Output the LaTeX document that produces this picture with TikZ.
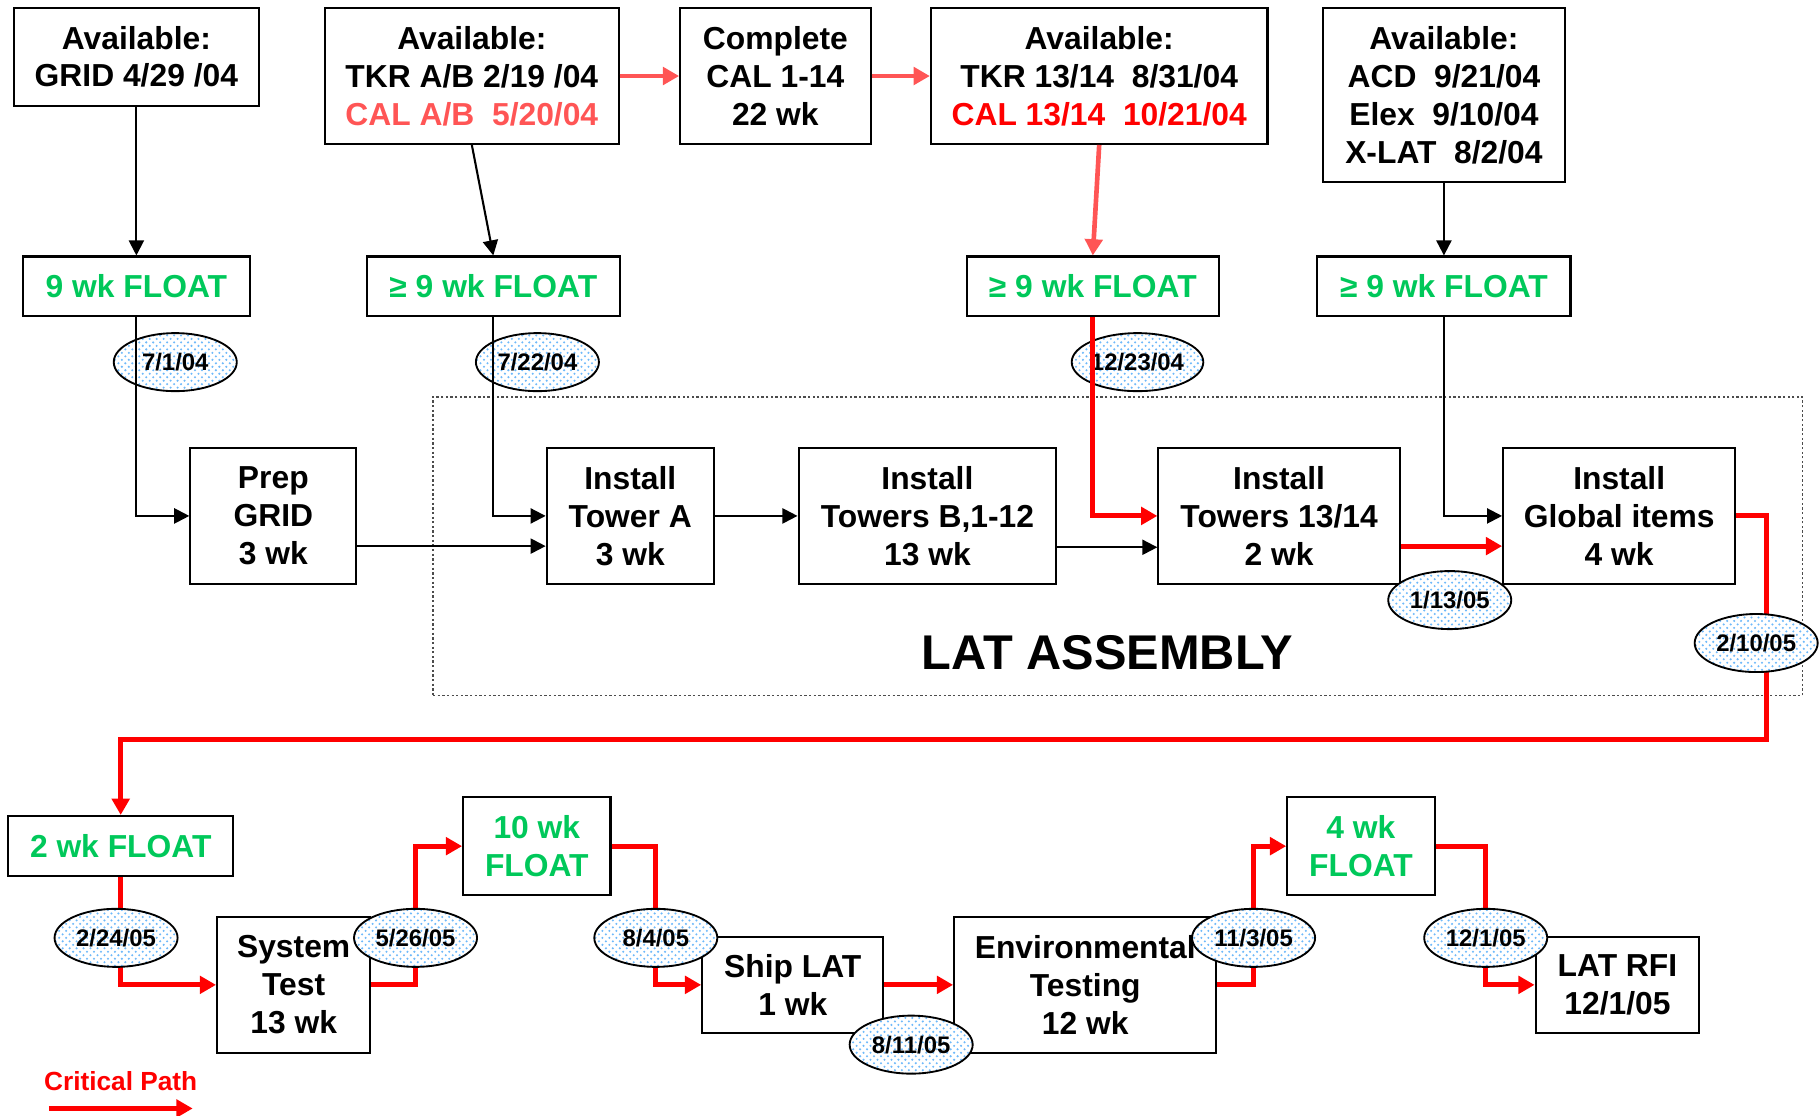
\documentclass[tikz,border=0pt]{standalone}
\usepackage{fontspec}
\setmainfont{Liberation Sans}
\usetikzlibrary{arrows.meta,patterns,shapes.geometric}
\definecolor{floatgreen}{RGB}{0,200,90}
\definecolor{softred}{RGB}{255,85,85}
\definecolor{critred}{RGB}{255,0,0}
\definecolor{dotblue}{RGB}{110,185,250}
\newcommand{\boxfont}{\bfseries\fontsize{13.7}{16.3}\selectfont}

\begin{document}
\begin{tikzpicture}[x=0.5pt,y=-0.5pt,
  task/.style={draw,line width=0.9pt,align=center,inner sep=0pt,font=\boxfont},
  flt/.style={task,text=floatgreen},
  datetag/.style={ellipse,draw,line width=0.8pt,minimum width=53pt,minimum height=25pt,
    inner sep=0pt,preaction={fill=white},pattern=crosshatch dots,pattern color=dotblue,
    font=\bfseries\fontsize{10.3}{12}\selectfont},
  link/.style={line width=0.9pt,-{Triangle[length=6.5pt,width=6.5pt]}},
  supply/.style={line width=2pt,softred,-{Triangle[length=7pt,width=7.5pt]}},
  crit/.style={line width=2.2pt,critred,-{Triangle[length=7pt,width=7.5pt]}}]
\useasboundingbox (0,0) rectangle (1568,961);
% LAT assembly frame
\node[draw=black!70,dash pattern=on 1pt off 1pt,line width=0.5pt,inner sep=0pt,
  minimum width=590pt,minimum height=128.5pt] (asm) at (963,470.5) {};
\node[font=\bfseries\fontsize{21}{25}\selectfont] (asmName) at (954,562) {LAT ASSEMBLY};
% deliveries
\node[task,minimum width=105.5pt,minimum height=42pt] (avGrid) at (117.5,49) {Available:\\GRID 4/29 /04};
\node[task,minimum width=126.5pt,minimum height=58.5pt] (avTkrAB) at (406.5,65.5)
  {Available:\\TKR A/B 2/19 /04\\\textcolor{softred}{CAL A/B~~5/20/04}};
\node[task,minimum width=82pt,minimum height=58.5pt] (calDone) at (668,65.5) {Complete\\CAL 1-14\\22 wk};
\node[task,minimum width=145pt,minimum height=58.5pt] (avTkr34) at (947,65.5)
  {Available:\\TKR 13/14~~8/31/04\\\textcolor{critred}{CAL 13/14~~10/21/04}};
\node[task,minimum width=104pt,minimum height=75pt] (avGlob) at (1244,82)
  {Available:\\ACD~~9/21/04\\Elex~~9/10/04\\X-LAT~~8/2/04};
% floats
\node[flt,minimum width=97.5pt,minimum height=25.5pt] (flGrid) at (117.5,246.5) {9 wk FLOAT};
\node[flt,minimum width=109pt,minimum height=25.5pt] (flTwrA) at (425,246.5) {≥ 9 wk FLOAT};
\node[flt,minimum width=108.5pt,minimum height=25.5pt] (flTwr34) at (941.5,246.5) {≥ 9 wk FLOAT};
\node[flt,minimum width=109pt,minimum height=25.5pt] (flGlob) at (1244,246.5) {≥ 9 wk FLOAT};
\node[datetag] (dGrid) at (151,312) {7/1/04};
\node[datetag] (dTwrA) at (463,312) {7/22/04};
\node[datetag] (dTwr34) at (980,312) {12/23/04};
% assembly tasks
\node[task,minimum width=71.5pt,minimum height=58.5pt] (prep) at (235.5,444.5) {Prep\\GRID\\3 wk};
\node[task,minimum width=72pt,minimum height=58.5pt] (twrA) at (543,444.5) {Install\\Tower A\\3 wk};
\node[task,minimum width=111pt,minimum height=58.5pt] (twrB) at (799,444.5) {Install\\Towers B,1-12\\13 wk};
\node[task,minimum width=104pt,minimum height=58.5pt] (twr34) at (1102,444.5) {Install\\Towers 13/14\\2 wk};
\node[task,minimum width=100pt,minimum height=58.5pt] (glob) at (1395,444.5) {Install\\Global items\\4 wk};
% test and ship
\node[flt,minimum width=97pt,minimum height=26pt] (flSys) at (104,729) {2 wk FLOAT};
\node[task,minimum width=66pt,minimum height=58.5pt] (sysTest) at (253,848.5) {System\\Test\\13 wk};
\node[flt,minimum width=63.5pt,minimum height=42pt] (flShip) at (462.5,729) {10 wk\\FLOAT};
\node[task,minimum width=78pt,minimum height=41.5pt] (ship) at (683,848.5) {Ship LAT\\1 wk};
\node[task,minimum width=113pt,minimum height=58.5pt] (envTest) at (935,848.5) {Environmental\\Testing\\12 wk};
\node[flt,minimum width=63.5pt,minimum height=42pt] (flRfi) at (1172.5,729) {4 wk\\FLOAT};
\node[task,minimum width=70.5pt,minimum height=41.5pt] (rfi) at (1393.5,848.5) {LAT RFI\\12/1/05};
\coordinate (critTurn) at (1522,637);
\coordinate (jSys) at (358,808);
\coordinate (jShip) at (565,808);
\coordinate (jEnv) at (1080,808);
\coordinate (jRfi) at (1280,808);

\draw[supply] (avTkrAB) -- (calDone);
\draw[supply] (calDone) -- (avTkr34);
\draw[supply] (avTkr34.south) -- (flTwr34.north);
\draw[link] (avGrid) -- (flGrid);
\draw[link] (avTkrAB.south) -- (flTwrA.north);
\draw[link] (avGlob) -- (flGlob);
\draw[link] (flGrid.south) |- (prep.west);
\draw[link] (flTwrA.south) |- (twrA.west);
\draw[crit] (flTwr34.south) |- (twr34.west);
\draw[link] (flGlob.south) |- (glob.west);
\draw[link] ([yshift=-13pt]prep.east) -- ([yshift=-13pt]twrA.west);
\draw[link] (twrA) -- (twrB);
\draw[link] ([yshift=-13.5pt]twrB.east) -- ([yshift=-13.5pt]twr34.west);
\draw[crit] ([yshift=-13pt]twr34.east) -- ([yshift=-13pt]glob.west);
\draw[crit] (glob.east) -| (critTurn) -| (flSys.north);
\draw[crit] (flSys.south) |- (sysTest.west);
\draw[crit] (sysTest.east) -| (jSys) |- (flShip.west);
\draw[crit] (flShip.east) -| (jShip) |- (ship.west);
\draw[crit] (ship) -- (envTest);
\draw[crit] (envTest.east) -| (jEnv) |- (flRfi.west);
\draw[crit] (flRfi.east) -| (jRfi) |- (rfi.west);

% milestone dates
\node[datetag] (dLat) at (1249,517) {1/13/05};
\node[datetag] (dTest) at (1513,554) {2/10/05};
\node[datetag] (dStart) at (100,808) {2/24/05};
\node[datetag] (dSys) at (jSys) {5/26/05};
\node[datetag] (dShip) at (jShip) {8/4/05};
\node[datetag] (dShipped) at (785,900) {8/11/05};
\node[datetag] (dEnv) at (jEnv) {11/3/05};
\node[datetag] (dRfi) at (jRfi) {12/1/05};

% legend
\node[font=\bfseries\fontsize{11.3}{13}\selectfont,text=critred] (legend) at (104,931) {Critical Path};
\coordinate (legS) at (42,955);
\coordinate (legE) at (166,955);
\draw[crit] (legS) -- (legE);
\end{tikzpicture}
\end{document}
